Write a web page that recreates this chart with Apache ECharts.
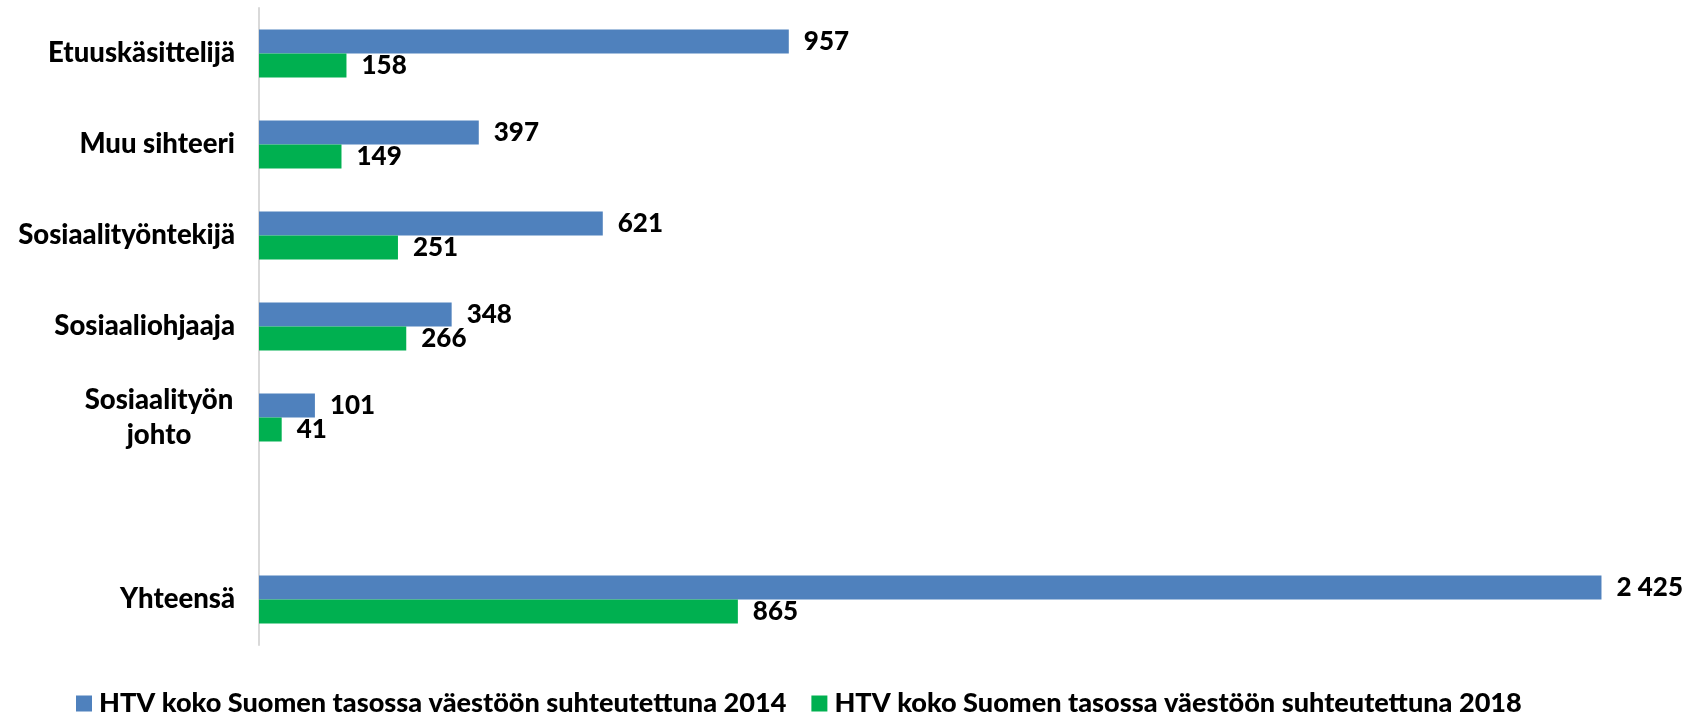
<!DOCTYPE html>
<html>
<head>
<meta charset="utf-8">
<script src="https://cdn.jsdelivr.net/npm/echarts@6/dist/echarts.min.js"></script>
<style>
html,body{margin:0;padding:0;background:#fff;}
#chart{width:1684px;height:715px;}
</style>
</head>
<body>
<div id="chart"></div>
<script>
const categories = ['Etuuskäsittelijä', 'Muu sihteeri', 'Sosiaalityöntekijä', 'Sosiaaliohjaaja', 'Sosiaalityön johto', '', 'Yhteensä'];
const seriesNames = ['HTV koko Suomen tasossa väestöön suhteutettuna 2014', 'HTV koko Suomen tasossa väestöön suhteutettuna 2018'];
const values2014 = [957, 397, 621, 348, 101, '-', 2425];
const values2018 = [158, 149, 251, 266, 41, '-', 865];

const FONT = 'Lato';
const chart = echarts.init(document.getElementById('chart'));

function fmtNum(v) {
  return String(v).replace(/\B(?=(\d{3})+(?!\d))/g, ' ');
}

const labelStyle = {
  show: true,
  position: 'right',
  distance: 15,
  fontFamily: FONT,
  fontWeight: 900,
  fontSize: 26,
  color: '#000',
  formatter: p => fmtNum(p.value)
};

chart.setOption({
  animation: false,
  backgroundColor: '#fff',
  grid: { left: 259, right: 41, top: 8, bottom: 70, containLabel: false },
  legend: {
    left: 71,
    top: 685,
    itemWidth: 16,
    itemHeight: 16,
    itemGap: 25,
    icon: 'rect',
    textStyle: { fontFamily: FONT, fontWeight: 900, fontSize: 27.1, color: '#000', padding: [0, 0, 0, 2] },
    data: seriesNames
  },
  xAxis: {
    type: 'value',
    min: 0,
    max: 2500,
    show: false,
    splitLine: { show: false }
  },
  yAxis: {
    type: 'category',
    inverse: true,
    data: categories,
    axisTick: { show: false },
    axisLine: { show: true, lineStyle: { color: '#d9d9d9', width: 2 } },
    axisLabel: {
      margin: 24,
      fontFamily: FONT,
      fontWeight: 900,
      fontSize: 27.5,
      color: '#000',
      formatter: function (v) {
        if (v === 'Sosiaalityön johto') return '{c|Sosiaalityön}\n{c|johto}';
        return v;
      },
      rich: {
        c: { width: 152, align: 'center', fontFamily: FONT, fontWeight: 900, fontSize: 27.5, color: '#000', lineHeight: 35 }
      }
    }
  },
  series: [
    {
      name: seriesNames[0],
      type: 'bar',
      data: values2014,
      barWidth: 24,
      barGap: '0%',
      itemStyle: { color: '#4f81bd' },
      label: labelStyle
    },
    {
      name: seriesNames[1],
      type: 'bar',
      data: values2018,
      barWidth: 24,
      barGap: '0%',
      itemStyle: { color: '#00b050' },
      label: labelStyle
    }
  ]
});
</script>
</body>
</html>
